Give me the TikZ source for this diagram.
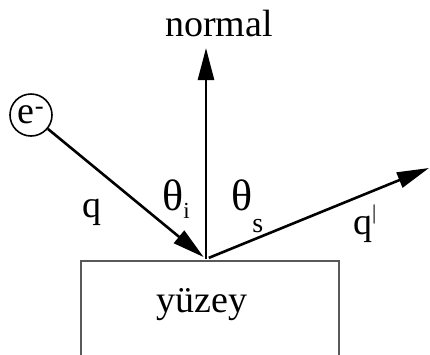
\documentclass[tikz,border=0pt]{standalone}
\usepackage{fontspec}
\setmainfont{Liberation Serif}
\usetikzlibrary{arrows.meta,positioning}

\begin{document}
\begin{tikzpicture}[
    x=1pt, y=-1pt,
    txt/.style={font=\fontsize{38}{40}\selectfont, inner sep=0pt},
    angle/.style={font=\fontsize{44}{46}\selectfont, inner sep=0pt},
    ray/.style={-{Triangle[length=32pt,width=16pt]}, line width=2.6pt},
    electron/.style={circle, draw, line width=1.6pt, minimum size=42pt, inner sep=0pt, font=\fontsize{38}{40}\selectfont},
    surface/.style={rectangle, draw=black!65, line width=1.8pt, minimum width=258pt, minimum height=120pt}
]
\clip (0,0) rectangle (430,354);

\coordinate (origin) at (206,259);
\coordinate (ntip) at (206,48);
\coordinate (qtip) at (429,168);

\node[surface, anchor=north] (surface) at (210,260) {};
\node[txt, anchor=base] (surfacelabel) at (202,312) {yüzey};

\node[electron] (e) at (31,115) {e\textsuperscript{-}};

\node[txt, anchor=base] (normallabel) at (219,36) {normal};
\node[txt, anchor=base] (qin) at (92,217) {q};
\node[txt, anchor=base west] (qout) at (353,234) {q\raisebox{15pt}{\fontsize{21}{21}\selectfont|}};
\node[angle, anchor=base west] (thetai) at (162,210) {θ\raisebox{-8pt}{\fontsize{23}{23}\selectfont i}};
\node[angle, anchor=base west] (thetas) at (231,210) {θ\raisebox{-22pt}{\fontsize{28}{28}\selectfont s}};

\draw[ray] (origin) -- (ntip);
\draw[ray, shorten >=3pt] (e) -- (origin);
\draw[ray, shorten <=3pt] (origin) -- (qtip);

\end{tikzpicture}
\end{document}
